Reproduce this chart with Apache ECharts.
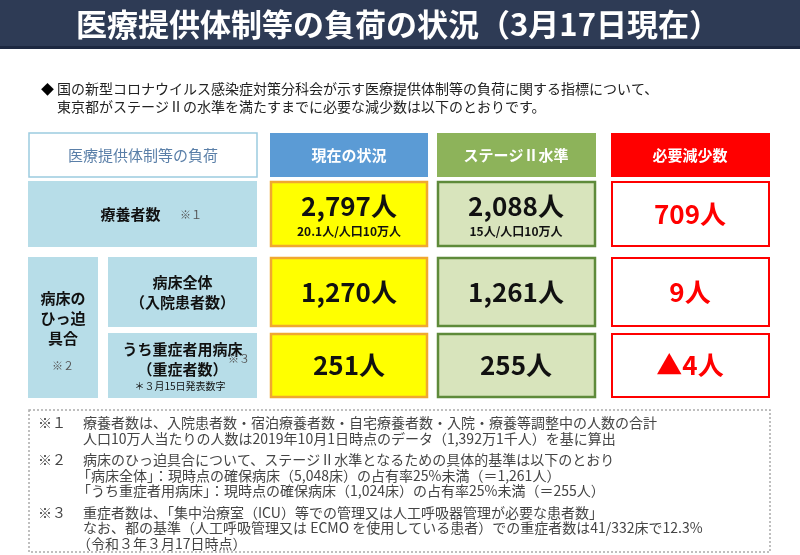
<!DOCTYPE html>
<html><head><meta charset="utf-8">
<script src="https://cdn.jsdelivr.net/npm/echarts@6/dist/echarts.min.js"></script>
<style>html,body{margin:0;padding:0;background:#fff}#c{width:800px;height:555px}</style>
</head><body><div id="c"></div>
<script>
const title = '医療提供体制等の負荷の状況（3月17日現在）';
const introLines = ['国の新型コロナウイルス感染症対策分科会が示す医療提供体制等の負荷に関する指標について、','東京都がステージⅡの水準を満たすまでに必要な減少数は以下のとおりです。'];
const headers = ['医療提供体制等の負荷','現在の状況','ステージⅡ水準','必要減少数'];
const rowLabels = ['療養者数','病床全体\n（入院患者数）','うち重症者用病床\n（重症者数）'];
const currentValues = [2797, 1270, 251];
const stage2Values = [2088, 1261, 255];
const reductionValues = [709, 9, -4];
const perPopCurrent = '20.1人/人口10万人';
const perPopStage2 = '15人/人口10万人';
const notes = [
 ['※１','療養者数は、入院患者数・宿泊療養者数・自宅療養者数・入院・療養等調整中の人数の合計','人口10万人当たりの人数は2019年10月1日時点のデータ（1,392万1千人）を基に算出'],
 ['※２','病床のひっ迫具合について、ステージⅡ水準となるための具体的基準は以下のとおり','「病床全体」：現時点の確保病床（5,048床）の占有率25%未満（＝1,261人）','「うち重症者用病床」：現時点の確保病床（1,024床）の占有率25%未満（＝255人）'],
 ['※３','重症者数は、「集中治療室（ICU）等での管理又は人工呼吸器管理が必要な患者数」','なお、都の基準（人工呼吸管理又は ECMO を使用している患者）での重症者数は41/332床で12.3%','（令和３年３月17日時点）']
];
const F = '"Noto Sans CJK JP", sans-serif';
const fmt = v => (v<0?'▲':'') + Math.abs(v).toLocaleString('en-US') + '人';
const g = [];
function rect(x,y,w,h,fill,stroke,lw){g.push({type:'rect',shape:{x,y,width:w,height:h},style:{fill,stroke:stroke||null,lineWidth:lw||0}});}
function text(x,y,t,size,color,weight,align,lh){g.push({type:'text',x,y,style:{text:t,font:(weight||'normal')+' '+size+'px '+F,fill:color,align:align||'center',verticalAlign:'middle',lineHeight:lh||size*1.25}});}
// title
rect(0,0,800,46,'#2e3b55');
rect(0,46,800,3,'#1d2840');
text(398,24,title,31,'#fff','bold');
text(41,89,'◆',13,'#000','normal','left');
text(57,89,introLines[0],14,'#222','normal','left');
text(57,107,introLines[1],14,'#222','normal','left');
// headers
rect(29,133,228,44,'#fff','#9ccbe0',1.5);
text(143,155,headers[0],15,'#5a7fa8');
rect(270,133,158,44,'#5b9bd5');
text(349,155,headers[1],15,'#fff','bold');
rect(437,133,159,44,'#8db35a');
text(516,155,headers[2],15,'#fff','bold');
rect(611,133,159,44,'#ff0000');
text(690,155,headers[3],15,'#fff','bold');
const rows=[[181,66],[257,70],[333,65]];
const lab=[[28,229],[108,149],[108,149]];
for(let i=0;i<3;i++){
  const [y,h]=rows[i];
  rect(lab[i][0],y,lab[i][1],h,'#b7dde8');
  const ly = y+h/2 - (i===2?6:0);
  text(lab[i][0]+lab[i][1]/2 - (i===0?12:0),ly,rowLabels[i],15,'#111','bold','center',20);
  rect(271,y+1,156,h-2,'#ffff00','#f0a830',2.5);
  rect(438,y+1,157,h-2,'#d8e4bc','#5e8a3a',2.5);
  rect(612,y+1,157,h-2,'#fff','#ff0000',2);
  if(i===0){
    text(349,y+25,fmt(currentValues[i]),26,'#111','bold');
    text(349,y+50,perPopCurrent,12,'#111','bold');
    text(516,y+25,fmt(stage2Values[i]),26,'#111','bold');
    text(516,y+50,perPopStage2,12,'#111','bold');
  } else {
    text(349,y+h/2,fmt(currentValues[i]),26,'#111','bold');
    text(516,y+h/2,fmt(stage2Values[i]),26,'#111','bold');
  }
  g.push({type:'text',x:690,y:y+h/2,style:{text:fmt(reductionValues[i]),font:'bold 26px '+F,fill:'#ff0000',align:'center',verticalAlign:'middle'}});
}
text(180,215,'※１',11,'#555','normal','left');
text(228,359,'※３',11,'#555','normal','left');
rect(28,257,70,141,'#b7dde8');
text(63,318,'病床の\nひっ迫\n具合',15,'#111','bold','center',20);
text(63,366,'※２',11,'#555');
text(180,386,'＊３月15日発表数字',10,'#111');
// notes
g.push({type:'rect',shape:{x:29,y:410,width:741,height:142},style:{fill:'#fff',stroke:'#aaa',lineWidth:1.5,lineDash:[2,2]}});
let ny=423;
notes.forEach((n,k)=>{
  text(38,ny,n[0],14,'#444','normal','left');
  for(let j=1;j<n.length;j++){
    const ind = (k===1&&j>1)||(k===2&&j===3)?-6:0;
    text(83+ind,ny,n[j],14,'#444','normal','left');
    ny+=15.5;
  }
  ny+=6;
});
const chart=echarts.init(document.getElementById('c'));
chart.setOption({animation:false,graphic:g});
</script></body></html>
